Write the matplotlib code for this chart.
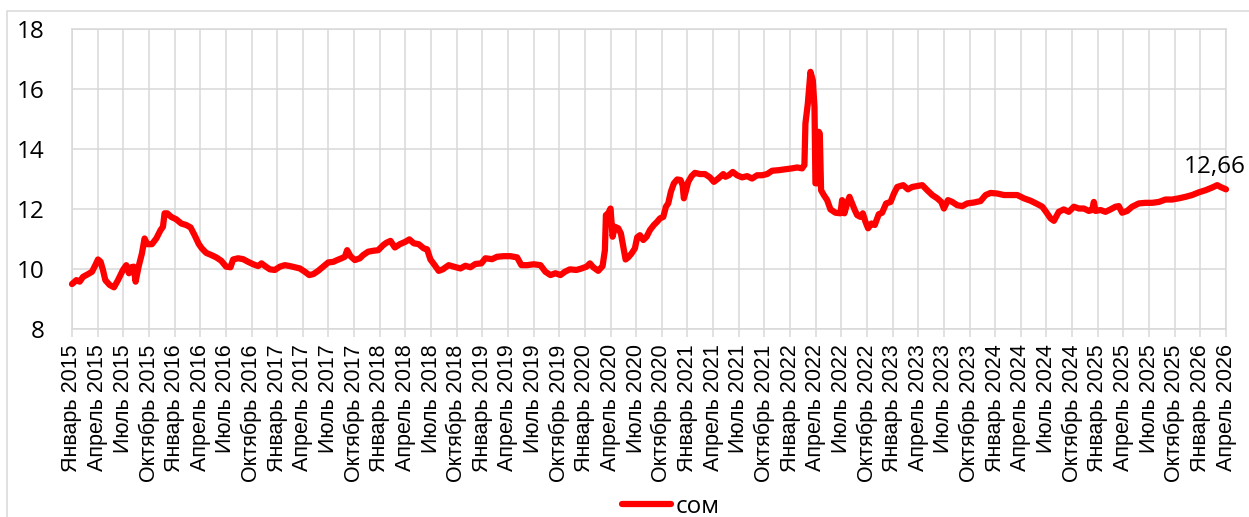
import numpy as np
import matplotlib.pyplot as plt
from matplotlib.patches import Rectangle

# months since January 2015 and exchange rate (сом)
months = [0, 0.51, 0.9, 1.29, 1.87, 2.34, 2.73, 3.04, 3.35, 3.62, 3.9, 4.4, 4.91, 5.38, 5.96,
          6.35, 6.66, 6.93, 7.21, 7.44, 7.79, 8.18, 8.49, 8.8, 9.35, 9.86, 10.36, 10.64, 10.83,
          11.14, 11.61, 12.19, 12.78, 13.36, 13.87, 14.34, 14.84, 15.19, 15.7, 16.28, 16.87,
          17.45, 18.03, 18.54, 18.85, 19.44, 20.02, 20.61, 21.2, 21.78, 22.17, 22.68, 23.15,
          23.73, 24.32, 24.9, 25.49, 26.07, 26.66, 27.24, 27.75, 28.22, 28.8, 29.39, 29.97,
          30.56, 31.02, 31.53, 31.92, 32.19, 32.58, 33.09, 33.68, 34.07, 34.65, 35.24, 35.82,
          36.41, 36.8, 37.26, 37.77, 38.36, 39, 39.47, 39.98, 40.56, 41.15, 41.54, 41.93, 42.43,
          42.9, 43.37, 44.07, 44.66, 45.44, 46.02, 46.61, 47.19, 47.89, 48.36, 49.14, 49.73,
          50.51, 51.29, 52.07, 52.57, 53.24, 54.02, 54.8, 55.38, 55.97, 56.55, 57.14, 57.66,
          58.24, 59.02, 59.61, 60.2, 60.59, 60.98, 61.56, 62.07, 62.34, 62.46, 62.73, 63.0,
          63.24, 63.51, 63.9, 64.21, 64.49, 64.76, 65.07, 65.46, 65.85, 66.12, 66.44, 66.83,
          67.22, 67.61, 68.07, 68.46, 68.78, 69.17, 69.48, 69.75, 70.06, 70.41, 70.8, 71.19,
          71.43, 71.58, 71.82, 72.09, 72.48, 72.87, 73.46, 74.04, 74.63, 75.09, 75.6, 76.19,
          76.44, 76.83, 77.3, 77.8, 78.39, 78.98, 79.56, 80.15, 80.73, 81.32, 81.9, 82.68,
          83.46, 84.24, 84.83, 85.41, 85.68, 85.8, 86.08, 86.39, 86.66, 86.86, 86.97, 87.17,
          87.36, 87.48, 87.63, 87.95, 88.34, 88.73, 89.31, 89.9, 90.09, 90.36, 90.68, 90.95,
          91.26, 91.57, 91.85, 92.24, 92.51, 92.82, 93.13, 93.52, 93.91, 94.38, 94.77, 95.24,
          95.76, 96.15, 96.54, 97.24, 97.79, 98.3, 98.88, 99.47, 100.05, 100.64, 101.22, 101.69,
          102.0, 102.47, 102.98, 103.56, 104.15, 104.73, 105.51, 106.29, 106.88, 107.46, 108.24,
          109.02, 109.8, 110.58, 111.36, 112.14, 112.92, 113.51, 114.02, 114.48, 114.87, 115.44,
          116.02, 116.61, 117.2, 117.78, 118.37, 118.95, 119.34, 119.54, 119.73, 120.32, 120.9,
          121.49, 122.07, 122.46, 122.85, 123.44, 124.02, 124.8, 125.58, 126.36, 127.15, 127.92,
          128.7, 129.48, 130.27, 131.04, 131.82, 132.6, 133.38, 133.97, 134.36, 135.0]
rates = [9.5, 9.63, 9.58, 9.74, 9.83, 9.91, 10.13, 10.32, 10.24, 9.97, 9.63, 9.47, 9.39, 9.63, 9.97,
         10.13, 9.86, 10.06, 10.08, 9.58, 10.08, 10.52, 11.02, 10.83, 10.83, 11.02, 11.3, 11.41, 11.86,
         11.86, 11.74, 11.66, 11.52, 11.47, 11.39, 11.13, 10.83, 10.69, 10.54, 10.47, 10.39,
         10.28, 10.08, 10.06, 10.32, 10.36, 10.33, 10.24, 10.16, 10.1, 10.19, 10.08, 9.99,
         9.97, 10.08, 10.13, 10.1, 10.06, 10.02, 9.91, 9.8, 9.83, 9.94, 10.08, 10.22,
         10.24, 10.3, 10.36, 10.41, 10.63, 10.43, 10.3, 10.36, 10.47, 10.58, 10.61, 10.63,
         10.8, 10.88, 10.94, 10.72, 10.83, 10.91, 10.99, 10.86, 10.83, 10.69, 10.66, 10.32, 10.13,
         9.94, 9.99, 10.13, 10.08, 10.02, 10.11, 10.06, 10.17, 10.19, 10.36, 10.33, 10.41,
         10.43, 10.43, 10.39, 10.13, 10.13, 10.16, 10.13, 9.91, 9.8, 9.86, 9.8, 9.91,
         9.99, 9.97, 10.02, 10.08, 10.19, 10.06, 9.94, 10.1, 10.63, 11.8, 11.86, 12.02,
         11.08, 11.41, 11.36, 11.19, 10.74, 10.32, 10.39, 10.52, 10.69, 11.06, 11.13, 10.97,
         11.08, 11.3, 11.47, 11.58, 11.69, 11.74, 12.08, 12.19, 12.58, 12.86, 12.99, 12.97,
         12.8, 12.36, 12.61, 12.91, 13.1, 13.21, 13.17, 13.17, 13.06, 12.91, 13.02, 13.17,
         13.08, 13.13, 13.24, 13.13, 13.06, 13.1, 13.02, 13.13, 13.13, 13.17, 13.28, 13.3,
         13.33, 13.36, 13.39, 13.36, 13.47, 14.86, 15.52, 16.58, 16.3, 15.41, 12.86, 12.86,
         14.58, 14.52, 12.63, 12.47, 12.3, 11.99, 11.88, 11.86, 12.3, 11.86, 12.19, 12.41,
         12.19, 11.97, 11.8, 11.74, 11.86, 11.58, 11.36, 11.52, 11.47, 11.83, 11.88, 12.19,
         12.24, 12.52, 12.74, 12.8, 12.66, 12.74, 12.77, 12.8, 12.63, 12.47, 12.36, 12.24,
         12.02, 12.3, 12.24, 12.13, 12.1, 12.19, 12.22, 12.27, 12.47, 12.54, 12.52,
         12.47, 12.47, 12.47, 12.36, 12.28, 12.17, 12.08, 11.88, 11.69, 11.61, 11.91,
         11.99, 11.91, 12.08, 12.02, 12.02, 11.94, 11.97, 12.24, 11.94, 11.97, 11.91,
         11.99, 12.08, 12.1, 11.88, 11.94, 12.08, 12.19, 12.21, 12.21, 12.24, 12.32,
         12.32, 12.36, 12.41, 12.47, 12.56, 12.63, 12.72, 12.8, 12.74, 12.66]

month_names = ['Январь', 'Апрель', 'Июль', 'Октябрь']
years = list(range(2015, 2027))
tick_labels = [m + ' ' + str(y) for y in years for m in month_names][:46]
tick_pos = np.arange(len(tick_labels)) * 3

grid_col = '#d9d9d9'

fig = plt.figure(figsize=(12.49, 5.17), dpi=100)
ax = fig.add_axes([72 / 1249, 1 - 329 / 517, (1226 - 72) / 1249, (329 - 29.3) / 517])

ax.plot(months, rates, color='#ff0000', lw=4.5, solid_joinstyle='round',
        solid_capstyle='round', label='сом', zorder=3, clip_on=False)

ax.set_xlim(0, 135)
ax.set_ylim(8, 18)
ax.set_yticks([8, 10, 12, 14, 16, 18])
ax.set_xticks(tick_pos)
ax.set_xticklabels(tick_labels, rotation=90, family='Liberation Sans', fontsize=15.5)
for t in ax.get_yticklabels():
    t.set_family('Open Sans')
    t.set_fontsize(17.5)
ax.tick_params(axis='y', length=0, pad=20)
ax.tick_params(axis='x', length=6, color=grid_col, width=1.1, pad=5)
ax.grid(True, color=grid_col, lw=1.1)
ax.set_axisbelow(True)
for s in ax.spines.values():
    s.set_color(grid_col)
    s.set_linewidth(1.1)

ax.annotate(f'{rates[-1]:.2f}'.replace('.', ','), (months[-1], rates[-1]),
            xytext=(-8, 16), textcoords='offset points', ha='center', va='center',
            family='Open Sans', fontsize=17.5, annotation_clip=False)

fig.legend(loc='center', bbox_to_anchor=(671 / 1249, 1 - 507 / 517), frameon=False,
           prop={'family': 'Open Sans', 'size': 17.5}, handlelength=2.0, handletextpad=0.2)

fig.patches.append(Rectangle((7 / 1249, -0.05), 1.2, 1 - 11 / 517 + 0.05,
                             transform=fig.transFigure, fill=False,
                             edgecolor=grid_col, lw=1.1))

fig.savefig('out.png', dpi=100)
